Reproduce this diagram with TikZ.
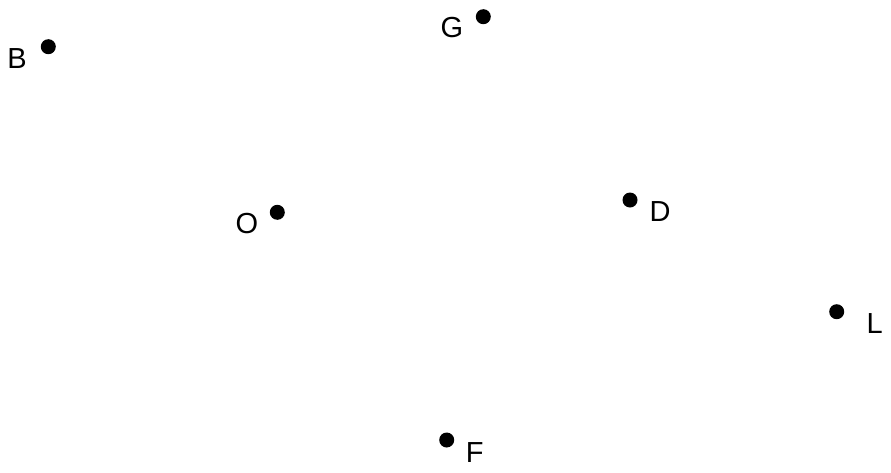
\documentclass[tikz,border=0pt]{standalone}
\usepackage{fontspec}
\setmainfont{Liberation Sans}
\begin{document}
\begin{tikzpicture}[x=1pt,y=-1pt,
  dotmark/.style={circle,fill=black,inner sep=0pt,minimum size=15pt},
  lbl/.style={anchor=base,inner sep=0pt,font=\fontsize{29}{31}\selectfont}]
\useasboundingbox (0,0) rectangle (891,472);
\node[dotmark] (b) at (48.3,46.7) {};
\node[dotmark] (g) at (483.3,16.7) {};
\node[dotmark] (o) at (277.3,212.3) {};
\node[dotmark] (d) at (630,200) {};
\node[dotmark] (l) at (836.7,311.7) {};
\node[dotmark] (f) at (446.7,440) {};
\node[lbl] (bl) at (17,68) {B};
\node[lbl] (gl) at (452,37) {G};
\node[lbl] (ol) at (247,233.5) {O};
\node[lbl] (dl) at (660,221.7) {D};
\node[lbl] (ll) at (874.7,333) {L};
\node[lbl] (fl) at (474.7,462.7) {F};
\end{tikzpicture}
\end{document}
